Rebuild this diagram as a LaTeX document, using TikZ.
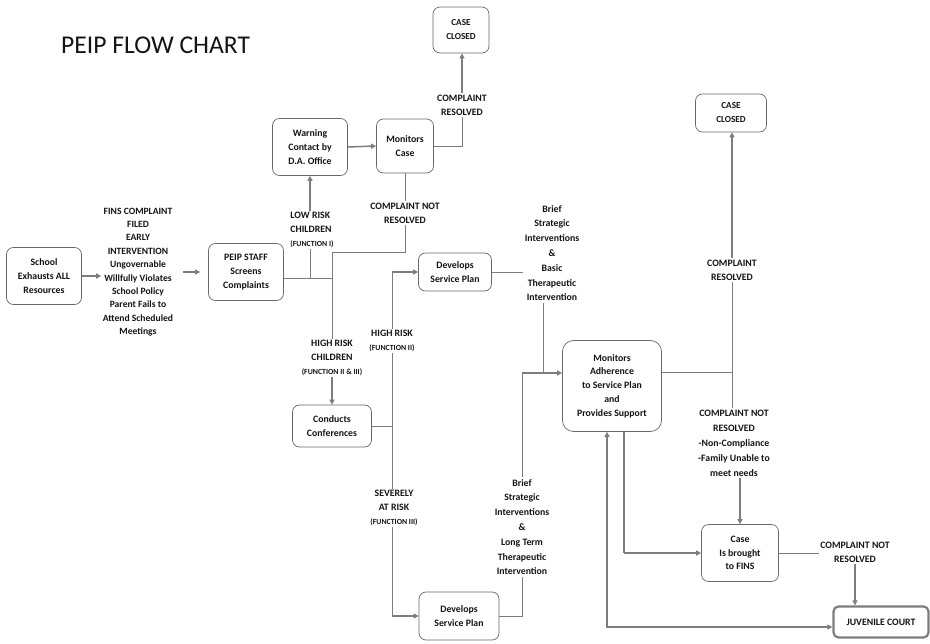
\documentclass[tikz,border=0pt]{standalone}
\usepackage{fontspec}
\setmainfont{Carlito}
\usetikzlibrary{arrows.meta,calc}
\definecolor{lnc}{RGB}{125,125,125}
\definecolor{bxc}{RGB}{105,105,105}
\definecolor{txc}{RGB}{20,20,20}
\newcommand{\fn}[1]{{\fontsize{7.8}{10}\selectfont #1}}
\begin{document}
\begin{tikzpicture}[x=1pt,y=-1pt,
  txt/.style={align=center,text=txc,font=\fontsize{9.8}{13.8}\selectfont\bfseries,inner sep=1pt},
  box/.style={txt,draw=bxc,line width=0.7pt,rounded corners=7pt,inner sep=0pt},
  lbl/.style={txt,inner sep=1.5pt},
  tall/.style={font=\fontsize{9.8}{14.8}\selectfont\bfseries},
  ln/.style={draw=lnc,line width=0.8pt},
  arr/.style={draw=lnc,line width=1.5pt,-{Triangle[length=5pt,width=5pt]},color=lnc},
  darr/.style={draw=lnc,line width=1.5pt,{Triangle[length=5pt,width=5pt]}-{Triangle[length=5pt,width=5pt]},color=lnc}]
\useasboundingbox (0,0) rectangle (930,644);
% title
\node[anchor=west,text=txc,font=\fontsize{25.6}{30}\selectfont,inner sep=0pt] (title) at (61,45) {PEIP FLOW CHART};
% boxes
\node[box,minimum width=75,minimum height=57] (school) at (44,276) {School\\Exhausts ALL\\Resources};
\node[lbl,font=\fontsize{9.6}{13.4}\selectfont\bfseries] (fins) at (138,272) {FINS COMPLAINT\\FILED\\EARLY\\INTERVENTION\\Ungovernable\\Willfully Violates\\School Policy\\Parent Fails to\\Attend Scheduled\\Meetings};
\node[box,minimum width=75,minimum height=57] (peip) at (246,272) {PEIP STAFF\\Screens\\Complaints};
\node[box,minimum width=75,minimum height=57] (warning) at (310,147) {Warning\\Contact by\\D.A. Office};
\node[box,minimum width=57,minimum height=54] (moncase) at (405,146) {Monitors\\Case};
\node[box,minimum width=56,minimum height=46,font=\fontsize{9.2}{14}\selectfont\bfseries] (closed1) at (461,30) {CASE\\CLOSED};
\node[lbl] (resolved1) at (462,105) {COMPLAINT\\RESOLVED};
\node[lbl] (cnr1) at (405,213) {COMPLAINT NOT\\RESOLVED};
\node[lbl,align=left] (lowrisk) at (312,230) {LOW RISK\\CHILDREN\\\fn{(FUNCTION I)}};
\node[lbl] (hrc) at (332,358) {HIGH RISK\\CHILDREN\\\fn{(FUNCTION II \& III)}};
\node[box,minimum width=79,minimum height=42] (conducts) at (332,426) {Conducts\\Conferences};
\node[lbl] (hr2) at (392,341) {HIGH RISK\\\fn{(FUNCTION II)}};
\node[lbl] (severely) at (394,508) {SEVERELY\\AT RISK\\\fn{(FUNCTION III)}};
\node[box,minimum width=73,minimum height=38] (dev1) at (455,272) {Develops\\Service Plan};
\node[lbl,tall] (brief1) at (552,253) {Brief\\Strategic\\Interventions\\\&\\Basic\\Therapeutic\\Intervention};
\node[box,minimum width=99,minimum height=91,rounded corners=11pt] (monadh) at (612,386) {Monitors\\Adherence\\to Service Plan\\and\\Provides Support};
\node[lbl,tall] (brief2) at (522,527) {Brief\\Strategic\\Interventions\\\&\\Long Term\\Therapeutic\\Intervention};
\node[box,minimum width=80,minimum height=48] (dev2) at (459,616) {Develops\\Service Plan};
\node[lbl] (resolved2) at (732,270) {COMPLAINT\\RESOLVED};
\node[box,minimum width=71,minimum height=38,font=\fontsize{9.2}{14}\selectfont\bfseries] (closed2) at (731,113) {CASE\\CLOSED};
\node[lbl,font=\fontsize{9.8}{15}\selectfont\bfseries] (cnr2) at (734,443) {COMPLAINT NOT\\RESOLVED\\-Non-Compliance\\-Family Unable to\\meet needs};
\node[box,minimum width=77,minimum height=57] (case) at (740,553) {Case\\Is brought\\to FINS};
\node[lbl] (cnr3) at (855,552) {COMPLAINT NOT\\RESOLVED};
\node[box,minimum width=95,minimum height=31,line width=2.2pt,draw=lnc,rounded corners=5pt] (juvenile) at (881,622) {JUVENILE COURT};
% junction coordinates
\coordinate (jA) at (332,278);
\coordinate (jL) at (310,278);
\coordinate (jB) at (332,252);
\coordinate (jC) at (543,373);
\coordinate (jD) at (732,372);
\coordinate (jE) at (624,556);
\coordinate (jF) at (607,627);
% connectors
\draw[arr] (school.east) -- (school.east -| fins.west);
\draw[arr,shorten <=8pt,shorten >=8pt] (fins.east) -- (fins.east -| peip.west);
\draw[ln] (jA -| peip.east) -- (jA);
\draw[ln] (jL) -- (lowrisk.south -| jL);
\draw[arr] (lowrisk.north -| jL) -- (warning.south);
\draw[arr] (warning.east) -- (moncase.west);
\draw[ln] (moncase.east) -| (resolved1.south);
\draw[arr] (resolved1.north) -- (resolved1.north |- closed1.south);
\draw[ln] (moncase.south) -- (cnr1.north);
\draw[ln] (cnr1.south) |- (jB) -- (hrc.north -| jB);
\draw[arr] (hrc.south) -- (conducts.north);
\draw[ln] (conducts.east) -- (conducts.east -| hr2.south);
\draw[ln] (hr2.south) -- (severely.north -| hr2.south);
\draw[ln] (hr2.north) -- (hr2.north |- dev1.west);
\draw[arr] (hr2.north |- dev1.west) -- (dev1.west);
\draw[ln] (severely.south -| hr2.south) -- (hr2.south |- dev2.west);
\draw[arr] (hr2.south |- dev2.west) -- (dev2.west);
\draw[ln] (dev1.east) -- (dev1.east -| brief1.west);
\draw[ln] (brief1.south -| jC) -- (jC);
\draw[ln] (brief2.north) -- (brief2.north |- jC);
\draw[arr] (brief2.north |- jC) -- (jC -| monadh.west);
\draw[ln] (dev2.east) -| (brief2.south);
\draw[ln] (jD -| monadh.east) -- (jD);
\draw[ln] (resolved2.south) -- (cnr2.north -| resolved2.south);
\draw[arr] (resolved2.north) -- (resolved2.north |- closed2.south);
\draw[arr] (case.north |- cnr2.south) -- (case.north);
\draw[draw=lnc,line width=1.1pt] (jE |- monadh.south) -- (jE |- case.west);
\draw[arr] (jE |- case.west) -- (case.west);
\draw[ln] (case.east) -- (case.east -| cnr3.west);
\draw[arr] (cnr3.south) -- (cnr3.south |- juvenile.north);
\draw[darr] (jF -| juvenile.west) -| (jF |- monadh.south);
\end{tikzpicture}
\end{document}
